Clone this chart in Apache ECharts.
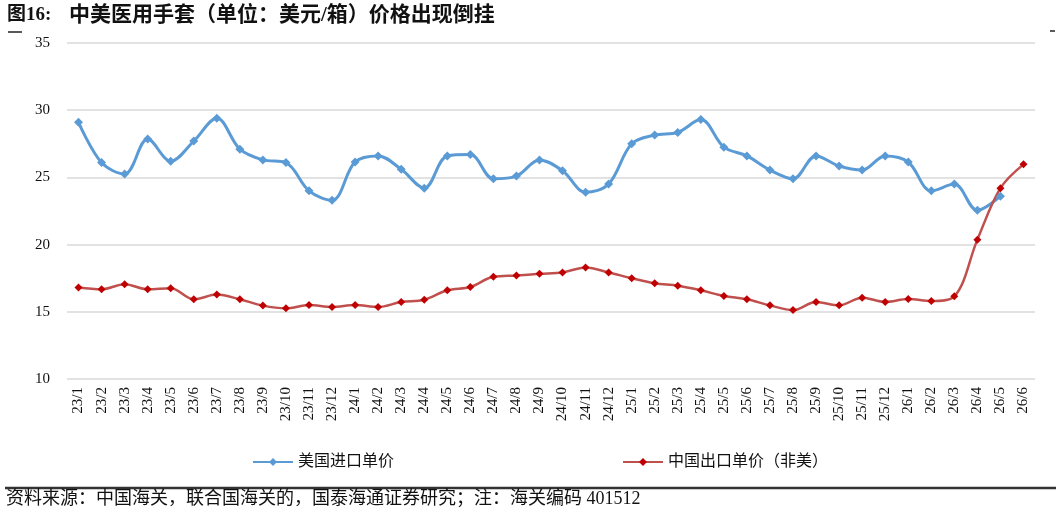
<!DOCTYPE html>
<html>
<head>
	<meta charset="UTF-8">
	<title>中美医用手套价格</title>
	<style>
		html, body { margin: 0; padding: 0; background: #fff; }
		#container { width: 1060px; height: 513px; }
	</style>
</head>
<body>
	<div id="container"></div>
	<script src="https://cdn.jsdelivr.net/npm/echarts@6/dist/echarts.min.js"></script>
	<script>
		var months = ['23/1','23/2','23/3','23/4','23/5','23/6','23/7','23/8','23/9','23/10','23/11','23/12',
			'24/1','24/2','24/3','24/4','24/5','24/6','24/7','24/8','24/9','24/10','24/11','24/12',
			'25/1','25/2','25/3','25/4','25/5','25/6','25/7','25/8','25/9','25/10','25/11','25/12',
			'26/1','26/2','26/3','26/4','26/5','26/6'];
		// 美国进口单价
		var usImport = [29.1, 26.1, 25.25, 27.85, 26.2, 27.7, 29.4, 27.1, 26.3, 26.1, 24.0, 23.3,
			26.15, 26.6, 25.6, 24.2, 26.6, 26.7, 24.9, 25.1, 26.3, 25.5, 23.9, 24.5,
			27.5, 28.15, 28.35, 29.3, 27.25, 26.6, 25.55, 24.9, 26.6, 25.85, 25.55, 26.6,
			26.15, 24.0, 24.5, 22.55, 23.6, null];
		// 中国出口单价（非美）
		var cnExport = [16.8, 16.67, 17.05, 16.67, 16.75, 15.93, 16.28, 15.93, 15.46, 15.26, 15.5, 15.36,
			15.5, 15.36, 15.73, 15.9, 16.6, 16.85, 17.6, 17.7, 17.83, 17.93, 18.3, 17.93,
			17.5, 17.12, 16.94, 16.6, 16.18, 15.93, 15.48, 15.13, 15.73, 15.48, 16.05, 15.73,
			15.95, 15.8, 16.15, 20.37, 24.2, 25.97];
		var yTicks = [10, 15, 20, 25, 30, 35];

		var serif = '"Liberation Serif", "Noto Sans CJK SC", serif';
		var dom = document.getElementById('container');
		var myChart = echarts.init(dom, null, {renderer: 'canvas'});

		var option = {
			backgroundColor: '#fff',
			animation: false,
			graphic: [
				{
					type: 'text', left: 7, top: 6,
					style: {text: '图16:', font: 'bold 19px ' + serif, fill: '#111'}
				},
				{
					type: 'text', left: 69, top: 5,
					style: {text: '中美医用手套（单位：美元/箱）价格出现倒挂', font: 'bold 21px ' + serif, fill: '#111'}
				},
				{type: 'line', shape: {x1: 8, y1: 32, x2: 22, y2: 32}, style: {stroke: '#222', lineWidth: 1.5}},
				{type: 'line', shape: {x1: 1050, y1: 31, x2: 1055, y2: 31}, style: {stroke: '#222', lineWidth: 1.5}},
				{type: 'line', shape: {x1: 5, y1: 488, x2: 1056, y2: 488}, style: {stroke: '#333', lineWidth: 2.5}},
				{
					type: 'text', left: 6, top: 490,
					style: {
						text: '资料来源：中国海关，联合国海关的，国泰海通证券研究；注：海关编码 401512',
						font: '18px ' + serif,
						fill: '#111'
					}
				}
			],
			legend: [
				{
					data: ['美国进口单价'],
					left: 247,
					top: 449,
					itemWidth: 40,
					itemHeight: 10,
					itemGap: 4,
					textStyle: {fontFamily: serif, fontSize: 16, color: '#111'}
				},
				{
					data: ['中国出口单价（非美）'],
					left: 617,
					top: 449,
					itemWidth: 40,
					itemHeight: 10,
					textStyle: {fontFamily: serif, fontSize: 16, color: '#111'}
				}
			],
			grid: {
				left: 67,
				right: 25,
				top: 43,
				bottom: 134,
				containLabel: false
			},
			xAxis: {
				type: 'category',
				data: months,
				boundaryGap: true,
				axisLine: {show: false},
				axisTick: {show: false},
				axisLabel: {
					rotate: 90,
					interval: 0,
					margin: 8,
					fontFamily: serif,
					fontSize: 15,
					color: '#111'
				}
			},
			yAxis: {
				type: 'value',
				min: yTicks[0],
				max: yTicks[yTicks.length - 1],
				interval: 5,
				axisLine: {show: false},
				axisTick: {show: false},
				axisLabel: {
					margin: 17,
					fontFamily: serif,
					fontSize: 15,
					color: '#111'
				},
				splitLine: {lineStyle: {color: '#d9d9d9', width: 1.5}}
			},
			series: [
				{
					name: '美国进口单价',
					type: 'line',
					data: usImport,
					smooth: 0.35,
					symbol: 'diamond',
					symbolSize: 9,
					lineStyle: {color: '#5b9bd5', width: 3},
					itemStyle: {color: '#5b9bd5'}
				},
				{
					name: '中国出口单价（非美）',
					type: 'line',
					data: cnExport,
					smooth: 0.35,
					symbol: 'diamond',
					symbolSize: 8,
					lineStyle: {color: '#c0504d', width: 2.5},
					itemStyle: {color: '#c00000'}
				}
			]
		};

		myChart.setOption(option, true);
	</script>
</body>
</html>
